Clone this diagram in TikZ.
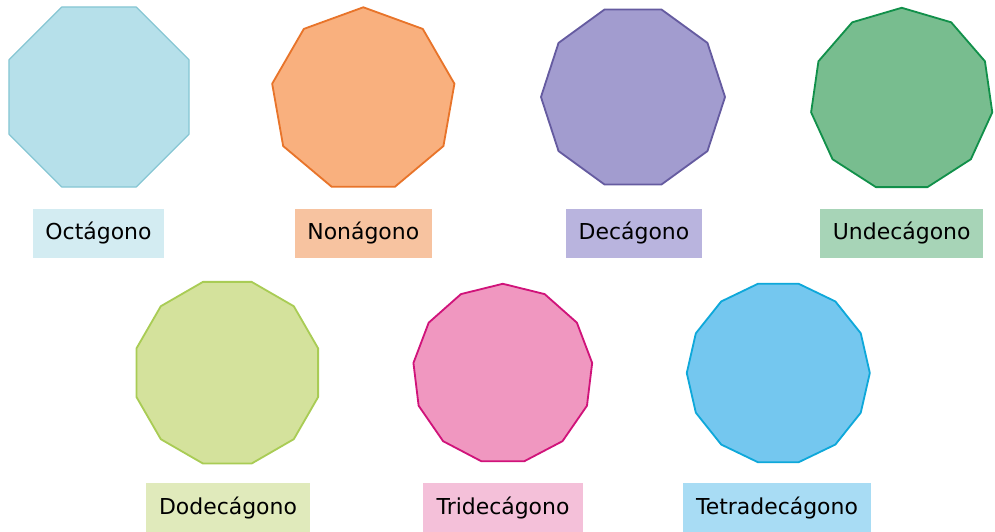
\documentclass[tikz,border=0pt]{standalone}
\usepackage{fontspec}
\setmainfont{DejaVu Sans}
\usetikzlibrary{shapes.geometric}

\definecolor{octfill}{HTML}{B6E0EA}
\definecolor{octline}{HTML}{86C6D3}
\definecolor{octlabel}{HTML}{D3ECF2}
\definecolor{nonfill}{HTML}{F9B07E}
\definecolor{nonline}{HTML}{E8742A}
\definecolor{nonlabel}{HTML}{F7C3A0}
\definecolor{decfill}{HTML}{A29CCF}
\definecolor{decline}{HTML}{655BA0}
\definecolor{declabel}{HTML}{B9B4DE}
\definecolor{undfill}{HTML}{78BD8F}
\definecolor{undline}{HTML}{11904A}
\definecolor{undlabel}{HTML}{A7D4B7}
\definecolor{dodfill}{HTML}{D4E29C}
\definecolor{dodline}{HTML}{A9CC55}
\definecolor{dodlabel}{HTML}{E0EABB}
\definecolor{trifill}{HTML}{F097C0}
\definecolor{triline}{HTML}{D0137A}
\definecolor{trilabel}{HTML}{F4C0D9}
\definecolor{tetfill}{HTML}{74C7EF}
\definecolor{tetline}{HTML}{0EA8DA}
\definecolor{tetlabel}{HTML}{A8DCF4}

\begin{document}
\begin{tikzpicture}[x=0.025cm,y=-0.025cm,
    poly/.style={regular polygon,inner sep=0pt,outer sep=0pt,line width=1.3pt,line join=round},
    lbl/.style={minimum height=1.225cm,inner sep=0pt,font=\fontsize{15.6pt}{18pt}\selectfont}]
    \useasboundingbox[fill=white] (0,0) rectangle (995,532);

    % first row
    \node[poly, regular polygon sides=8, minimum size=4.87cm, fill=octfill, draw=octline,
      line width=0.8pt] (octagono) at (99,97) {};
    \node[lbl, fill=octlabel, minimum width=3.275cm] (octagonolbl) at (98.5,233.5) {Octágono};

    \node[poly, regular polygon sides=9, minimum size=4.625cm, fill=nonfill, draw=nonline]
      (nonagono) at (363.3,99.8) {};
    \node[lbl, fill=nonlabel, minimum width=3.425cm] (nonagonolbl) at (363.3,233.4) {Nonágono};

    \node[poly, regular polygon sides=10, minimum size=4.6cm, fill=decfill, draw=decline]
      (decagono) at (633,97) {};
    \node[lbl, fill=declabel, minimum width=3.4cm] (decagonolbl) at (634,233.4) {Decágono};

    \node[poly, regular polygon sides=11, minimum size=4.575cm, fill=undfill, draw=undline]
      (undecagono) at (901.7,99.3) {};
    \node[lbl, fill=undlabel, minimum width=4.075cm] (undecagonolbl) at (901.7,233.4) {Undecágono};

    % second row
    \node[poly, regular polygon sides=12, minimum size=4.7cm, fill=dodfill, draw=dodline]
      (dodecagono) at (227.3,372.7) {};
    \node[lbl, fill=dodlabel, minimum width=4.075cm] (dodecagonolbl) at (228,507.7) {Dodecágono};

    \node[poly, regular polygon sides=13, minimum size=4.5cm, fill=trifill, draw=triline]
      (tridecagono) at (502.8,373.8) {};
    \node[lbl, fill=trilabel, minimum width=3.975cm] (tridecagonolbl) at (503,507.7) {Tridecágono};

    \node[poly, regular polygon sides=14, minimum size=4.575cm, fill=tetfill, draw=tetline]
      (tetradecagono) at (778.3,373) {};
    \node[lbl, fill=tetlabel, minimum width=4.675cm] (tetradecagonolbl) at (777,507.7) {Tetradecágono};
  \end{tikzpicture}
\end{document}
